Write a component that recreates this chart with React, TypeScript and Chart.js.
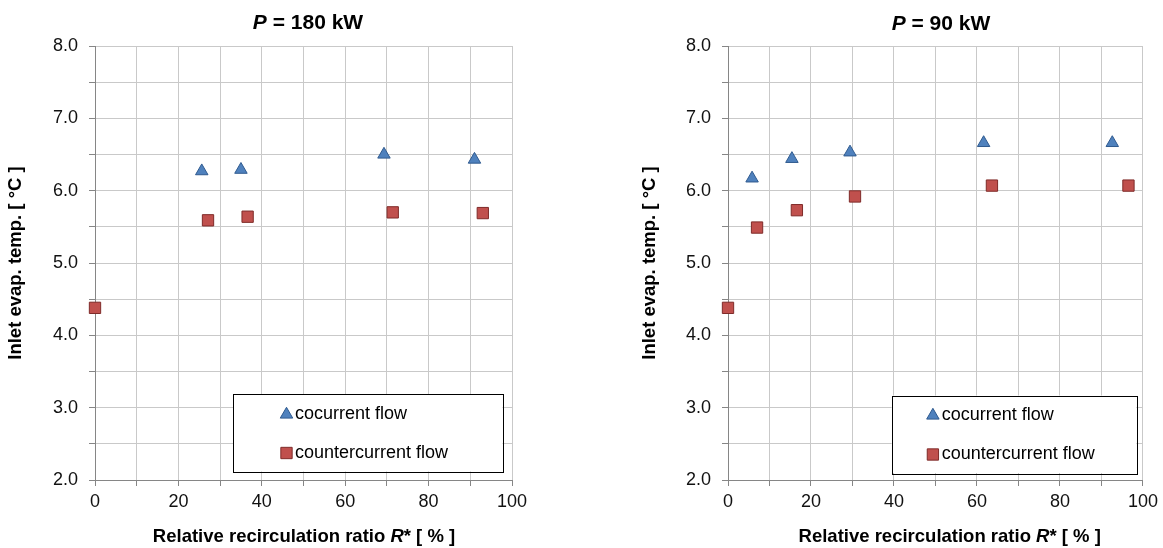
import React, { useEffect, useRef } from "react";
import { Chart, registerables } from "chart.js";

Chart.register(...registerables);

// ---------- data ----------
const seriesLabels = ["cocurrent flow", "countercurrent flow"];

// P = 180 kW
const cocurrentX180 = [25.6, 35.0, 69.3, 91.0];
const cocurrentY180 = [6.27, 6.29, 6.5, 6.43];
const counterX180 = [0, 27.1, 36.6, 71.4, 93.0];
const counterY180 = [4.38, 5.59, 5.64, 5.7, 5.69];

// P = 90 kW
const cocurrentX90 = [5.8, 15.4, 29.4, 61.6, 92.6];
const cocurrentY90 = [6.17, 6.44, 6.53, 6.66, 6.66];
const counterX90 = [0, 7.0, 16.6, 30.6, 63.6, 96.5];
const counterY90 = [4.38, 5.49, 5.73, 5.92, 6.07, 6.07];

const xLabelValues = [0, 20, 40, 60, 80, 100];
const yLabelValues = [2, 3, 4, 5, 6, 7, 8];

const yTitleText = "Inlet evap. temp. [ °C ]";
const xTitleParts = [
  { text: "Relative recirculation ratio ", italic: false },
  { text: "R", italic: true },
  { text: "* [ % ]", italic: false },
];

// ---------- styles ----------
const FONT = "'Liberation Sans', Arial, Helvetica, sans-serif";
const GRID = "#c9c9c9";
const AXIS = "#868686";
const TICK_TEXT = "#111111";
const BLUE = "#4f81bd";
const BLUE_EDGE = "#2f5a8f";
const RED = "#c0504d";
const RED_EDGE = "#7f2b29";

type Part = { text: string; italic: boolean };

function drawRich(ctx: CanvasRenderingContext2D, parts: Part[], cx: number, cy: number, size: number) {
  ctx.save();
  ctx.fillStyle = "#000";
  ctx.textBaseline = "middle";
  ctx.textAlign = "left";
  const fontFor = (p: Part) => `${p.italic ? "italic " : ""}bold ${size}px ${FONT}`;
  let total = 0;
  const widths = parts.map((p) => {
    ctx.font = fontFor(p);
    const w = ctx.measureText(p.text).width;
    total += w;
    return w;
  });
  let x = cx - total / 2;
  parts.forEach((p, i) => {
    ctx.font = fontFor(p);
    ctx.fillText(p.text, x, cy);
    x += widths[i];
  });
  ctx.restore();
}

function drawMarker(ctx: CanvasRenderingContext2D, style: string, r: number, x: number, y: number) {
  ctx.beginPath();
  if (style === "triangle") {
    const h = Math.sin(Math.PI / 3) * r;
    ctx.moveTo(x, y - r);
    ctx.lineTo(x + h, y + r / 2);
    ctx.lineTo(x - h, y + r / 2);
    ctx.closePath();
  } else {
    const s = r * Math.SQRT1_2;
    ctx.rect(x - s, y - s, 2 * s, 2 * s);
  }
  ctx.fill();
  ctx.stroke();
}

type PanelCfg = {
  left: number;
  width: number;
  padding: { left: number; top: number; right: number; bottom: number };
  yTitlePad: number;
  titleParts: Part[];
  titlePos: [number, number];
  xTitlePos: [number, number];
  legendBox: { x: number; y: number; w: number; h: number; markerX: number; textX: number; rows: number[] };
  coX: number[];
  coY: number[];
  ctX: number[];
  ctY: number[];
};

function Panel({ cfg }: { cfg: PanelCfg }) {
  const ref = useRef<HTMLCanvasElement>(null);

  useEffect(() => {
    const canvas = ref.current!;
    const decor = {
      id: "decor",
      afterDraw(chart: any) {
        const ctx: CanvasRenderingContext2D = chart.ctx;
        drawRich(ctx, cfg.titleParts, cfg.titlePos[0], cfg.titlePos[1], 21);
        drawRich(ctx, xTitleParts, cfg.xTitlePos[0], cfg.xTitlePos[1], 18.5);
        const L = cfg.legendBox;
        ctx.save();
        ctx.fillStyle = "#ffffff";
        ctx.fillRect(L.x, L.y, L.w, L.h);
        ctx.strokeStyle = "#000000";
        ctx.lineWidth = 1;
        ctx.strokeRect(Math.round(L.x) + 0.5, Math.round(L.y) + 0.5, Math.round(L.w), Math.round(L.h));
        chart.data.datasets.forEach((ds: any, i: number) => {
          const cy = L.y + L.rows[i];
          ctx.fillStyle = ds.backgroundColor;
          ctx.strokeStyle = ds.borderColor;
          ctx.lineWidth = 1;
          drawMarker(ctx, ds.pointStyle, ds.pointRadius, L.x + L.markerX, cy);
          ctx.fillStyle = "#000";
          ctx.font = `18px ${FONT}`;
          ctx.textBaseline = "middle";
          ctx.textAlign = "left";
          ctx.fillText(ds.label, L.x + L.textX, cy);
        });
        ctx.restore();
      },
    };

    const chart = new Chart(canvas, {
      type: "scatter",
      data: {
        datasets: [
          {
            label: seriesLabels[0],
            data: cfg.coX.map((x, i) => ({ x, y: cfg.coY[i] })),
            pointStyle: "triangle",
            pointRadius: 7.2,
            pointHoverRadius: 7.2,
            backgroundColor: BLUE,
            borderColor: BLUE_EDGE,
            borderWidth: 1,
            clip: false,
          } as any,
          {
            label: seriesLabels[1],
            data: cfg.ctX.map((x, i) => ({ x, y: cfg.ctY[i] })),
            pointStyle: "rect",
            pointRadius: 8,
            pointHoverRadius: 8,
            backgroundColor: RED,
            borderColor: RED_EDGE,
            borderWidth: 1,
            clip: false,
          } as any,
        ],
      },
      options: {
        responsive: false,
        animation: false,
        events: [],
        layout: { padding: cfg.padding },
        plugins: {
          legend: { display: false },
          title: { display: false },
          tooltip: { enabled: false },
        },
        scales: {
          x: {
            type: "linear",
            min: 0,
            max: 100,
            afterFit: (s: any) => {
              s.height = 68;
            },
            grid: { color: GRID, lineWidth: 1, tickColor: AXIS, tickLength: 6, drawTicks: true },
            border: { color: AXIS, width: 1 },
            ticks: {
              stepSize: 10,
              padding: 5,
              autoSkip: false,
              maxRotation: 0,
              color: TICK_TEXT,
              font: { family: FONT, size: 18 },
              callback: (v: any) => (xLabelValues.includes(Number(v)) ? String(v) : ""),
            },
          },
          y: {
            type: "linear",
            min: 2,
            max: 8,
            afterFit: (s: any) => {
              s.width = 95;
            },
            grid: { color: GRID, lineWidth: 1, tickColor: AXIS, tickLength: 6, drawTicks: true },
            border: { color: AXIS, width: 1 },
            ticks: {
              stepSize: 0.5,
              padding: 11,
              autoSkip: false,
              color: TICK_TEXT,
              font: { family: FONT, size: 18 },
              callback: (v: any) => (yLabelValues.includes(Number(v)) ? Number(v).toFixed(1) : ""),
            },
            title: {
              display: true,
              text: yTitleText,
              color: "#000",
              font: { family: FONT, size: 18.5, weight: "bold" },
              padding: { top: cfg.yTitlePad, bottom: 0 },
            },
          },
        },
      },
      plugins: [decor],
    } as any);

    return () => chart.destroy();
  }, [cfg]);

  return (
    <canvas
      ref={ref}
      width={cfg.width}
      height={548}
      style={{ position: "absolute", left: cfg.left, top: 0, width: cfg.width, height: 548 }}
    />
  );
}

const panel180: PanelCfg = {
  left: 0,
  width: 600,
  padding: { left: 0, top: 46, right: 88, bottom: 0 },
  yTitlePad: 5,
  titleParts: [
    { text: "P", italic: true },
    { text: " = 180 kW", italic: false },
  ],
  titlePos: [308, 23.5],
  xTitlePos: [304, 537],
  legendBox: { x: 233, y: 394, w: 269.5, h: 77.5, markerX: 53.5, textX: 62, rows: [20.5, 59] },
  coX: cocurrentX180,
  coY: cocurrentY180,
  ctX: counterX180,
  ctY: counterY180,
};

const panel90: PanelCfg = {
  left: 600,
  width: 563,
  padding: { left: 33, top: 46, right: 18, bottom: 0 },
  yTitlePad: 6,
  titleParts: [
    { text: "P", italic: true },
    { text: " = 90 kW", italic: false },
  ],
  titlePos: [341, 24.5],
  xTitlePos: [349.7, 537],
  legendBox: { x: 291.6, y: 395.5, w: 244.8, h: 77.5, markerX: 41.3, textX: 50.2, rows: [20, 59] },
  coX: cocurrentX90,
  coY: cocurrentY90,
  ctX: counterX90,
  ctY: counterY90,
};

export default function App() {
  return (
    <div style={{ position: "absolute", left: 0, top: 0, width: 1163, height: 548, background: "#ffffff", overflow: "hidden" }}>
      <Panel cfg={panel180} />
      <Panel cfg={panel90} />
    </div>
  );
}
